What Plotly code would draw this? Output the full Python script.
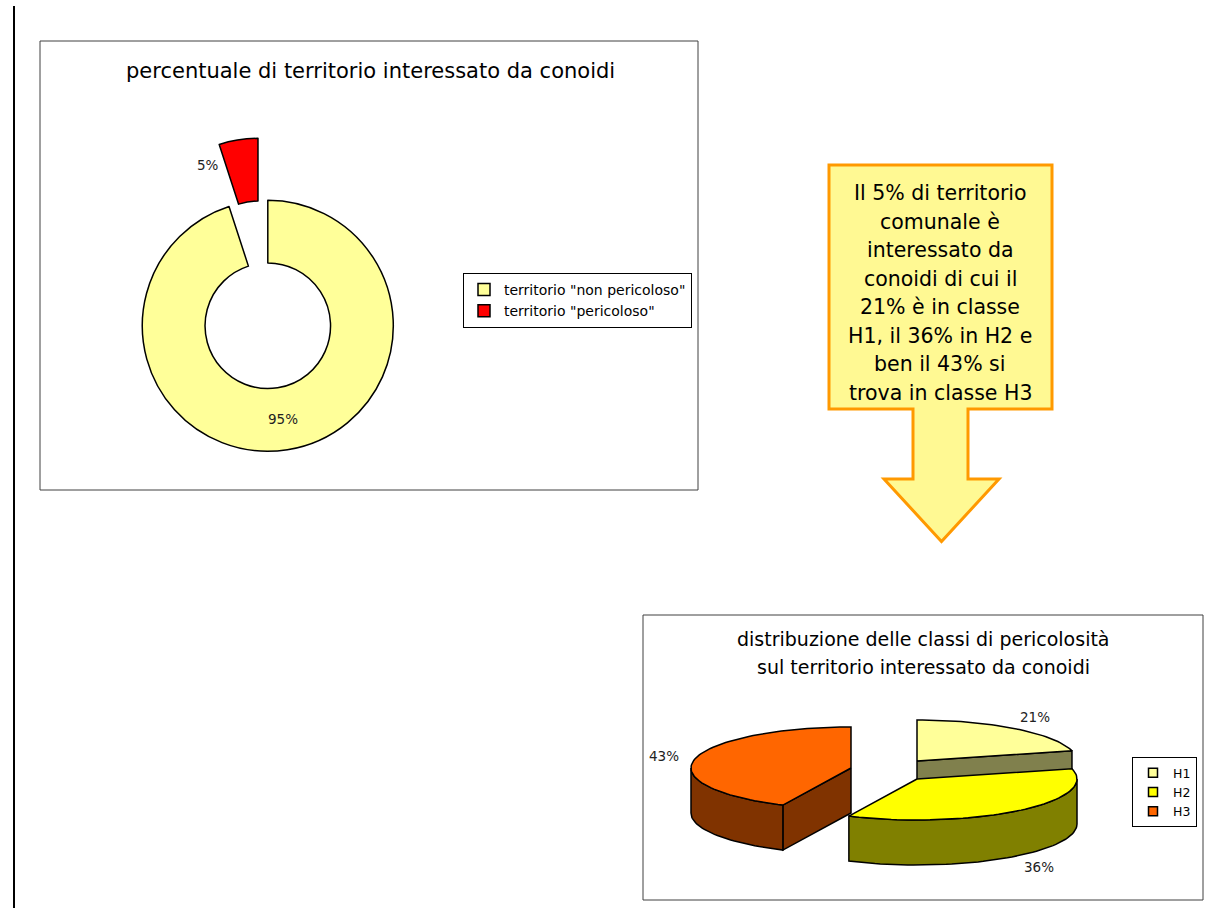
import numpy as np
import plotly.graph_objects as go

# ---------------- data ----------------
donut_labels = ['territorio "non pericoloso"', 'territorio "pericoloso"']
donut_values = [95, 5]

class_labels = ["H1", "H2", "H3"]
class_values = [21, 36, 43]

title_donut = "percentuale di territorio interessato da conoidi"
title_pie3d = ["distribuzione delle classi di pericolosità",
               "sul territorio interessato da conoidi"]
callout_lines = ["Il 5% di territorio", "comunale è", "interessato da",
                 "conoidi di cui il", "21% è in classe", "H1, il 36% in H2 e",
                 "ben il 43% si", "trova in classe H3"]

# ---------------- styles / layout constants ----------------
W, H = 1210, 911
FONT = "DejaVu Sans"
donut_colors = ["#FFFF99", "#FF0000"]
class_top = ["#FFFF99", "#FFFF00", "#FF6600"]
class_side = ["#80804D", "#808000", "#803300"]


def px(x):
    return x / W


def py(y):
    return 1 - y / H


fig = go.Figure()

# ---------------- donut chart ----------------
D_CX, D_CY, D_R, D_PULL = 267.8, 325.8, 125.5, 0.5
half = D_R * (1 + D_PULL)
fig.add_trace(go.Pie(
    labels=donut_labels, values=donut_values, hole=0.5, sort=False,
    direction="clockwise", rotation=0, pull=[0, D_PULL],
    marker=dict(colors=donut_colors, line=dict(color="black", width=1.5)),
    textinfo="none", hoverinfo="label+percent",
    domain=dict(x=[px(D_CX - half), px(D_CX + half)],
                y=[py(D_CY + half), py(D_CY - half)]),
    legend="legend",
))

# ---------------- 3D-style pie ----------------
P_A, P_B, P_T = 160, 41, 45
P_CENTERS = [(917, 761), (917, 779), (851, 768)]

total = float(sum(class_values))
starts = np.cumsum([0] + class_values[:-1]) / total * 360.0
ends = starts + np.array(class_values) / total * 360.0


def arc(cx, cy, a0, a1, dy=0.0):
    n = max(int(abs(a1 - a0) / 2) + 2, 3)
    th = np.radians(np.linspace(a0, a1, n))
    return list(cx + P_A * np.sin(th)), list(cy - P_B * np.cos(th) + dy)


def poly_trace(xs, ys, color):
    return go.Scatter(x=xs + [xs[0]], y=ys + [ys[0]], mode="lines",
                      fill="toself", fillcolor=color,
                      line=dict(color="black", width=1.5),
                      hoverinfo="skip", showlegend=False)


def depth(i):
    cx, cy = P_CENTERS[i]
    m = np.radians((starts[i] + ends[i]) / 2)
    return cy - P_B * np.cos(m)


for i in sorted(range(len(class_values)), key=depth):
    cx, cy = P_CENTERS[i]
    s, e = starts[i], ends[i]
    # radial cut faces
    for ang, normal in ((s, s - 90), (e, e + 90)):
        if np.cos(np.radians(normal)) < -1e-6:
            rx = cx + P_A * np.sin(np.radians(ang))
            ry = cy - P_B * np.cos(np.radians(ang))
            fig.add_trace(poly_trace([cx, rx, rx, cx],
                                     [cy, ry, ry + P_T, cy + P_T], class_side[i]))
    # outer curved side (front half only)
    s2, e2 = max(s, 90.0), min(e, 270.0)
    if e2 > s2:
        ax, ay = arc(cx, cy, s2, e2)
        bx, by = arc(cx, cy, s2, e2, P_T)
        fig.add_trace(poly_trace(ax + bx[::-1], ay + by[::-1], class_side[i]))
    # top face
    ax, ay = arc(cx, cy, s, e)
    fig.add_trace(poly_trace([cx] + ax, [cy] + ay, class_top[i]))

# legend entries for the 3D pie
for i, lab in enumerate(class_labels):
    fig.add_trace(go.Scatter(
        x=[None], y=[None], mode="markers", name=lab, legend="legend2",
        marker=dict(symbol="square", size=9, color=class_top[i],
                    line=dict(color="black", width=1.5)),
    ))

# ---------------- annotations ----------------
ann = []
lab_font = dict(family=FONT, size=13.5, color="#222222")

# donut labels
m_big = np.radians(360.0 * donut_values[0] / sum(donut_values) / 2)
r_mid = D_R * (1 + 0.5) / 2
ann.append(dict(x=D_CX + r_mid * np.sin(m_big), y=D_CY - r_mid * np.cos(m_big),
                text=f"{donut_values[0]}%", showarrow=False, font=lab_font,
                xref="x", yref="y"))
ann.append(dict(x=221, y=165, text=f"{donut_values[1]}%", showarrow=False,
                font=lab_font, xref="x", yref="y", xanchor="right"))

# 3D pie labels
for i, v in enumerate(class_values):
    cx, cy = P_CENTERS[i]
    m = np.radians((starts[i] + ends[i]) / 2)
    lx = cx + 1.2 * P_A * np.sin(m)
    ly = cy - 1.35 * P_B * np.cos(m) + (P_T if np.cos(m) < 0 else 0)
    ann.append(dict(x=lx, y=ly, text=f"{v}%", showarrow=False, font=lab_font,
                    xref="x", yref="y"))

# titles
ann.append(dict(x=370.5, y=71, text=title_donut, showarrow=False,
                font=dict(family=FONT, size=21, color="black"), xref="x", yref="y"))
for k, (ty, t) in enumerate(zip([639, 667], title_pie3d)):
    ann.append(dict(x=923, y=ty, text=t, showarrow=False,
                    font=dict(family=FONT, size=19, color="black"), xref="x", yref="y"))

# callout text
for k, t in enumerate(callout_lines):
    ann.append(dict(x=940, y=193 + 28.57 * k, text=t, showarrow=False,
                    font=dict(family=FONT, size=20.5, color="black"),
                    xref="x", yref="y"))

# ---------------- shapes ----------------
shapes = [
    dict(type="line", x0=14, x1=14, y0=6, y1=908, xref="x", yref="y",
         line=dict(color="black", width=2)),
    dict(type="rect", x0=40, y0=41, x1=698, y1=490, xref="x", yref="y",
         line=dict(color="#404040", width=1), layer="below"),
    dict(type="rect", x0=643, y0=615, x1=1203, y1=900, xref="x", yref="y",
         line=dict(color="#404040", width=1), layer="below"),
    dict(type="path", xref="x", yref="y",
         path="M829,165 H1052 V409 H968 V479 H999 L941.5,541.5 L884,479 H913 V409 H829 Z",
         fillcolor="#FFF993", line=dict(color="#FF9900", width=3)),
]

fig.update_layout(
    width=W, height=H, autosize=False,
    margin=dict(l=0, r=0, t=0, b=0, pad=0),
    paper_bgcolor="white", plot_bgcolor="rgba(0,0,0,0)",
    xaxis=dict(range=[0, W], domain=[0, 1], visible=False, fixedrange=True),
    yaxis=dict(range=[H, 0], domain=[0, 1], visible=False, fixedrange=True),
    showlegend=True,
    legend=dict(x=px(463), y=py(273), xanchor="left", yanchor="top",
                bgcolor="white", bordercolor="black", borderwidth=1,
                font=dict(family=FONT, size=14, color="black")),
    legend2=dict(x=px(1132), y=py(757), xanchor="left", yanchor="top",
                 bgcolor="white", bordercolor="black", borderwidth=1,
                 font=dict(family=FONT, size=12.5, color="black")),
    annotations=ann,
    shapes=shapes,
    font=dict(family=FONT),
)

fig.write_html("out.html")
